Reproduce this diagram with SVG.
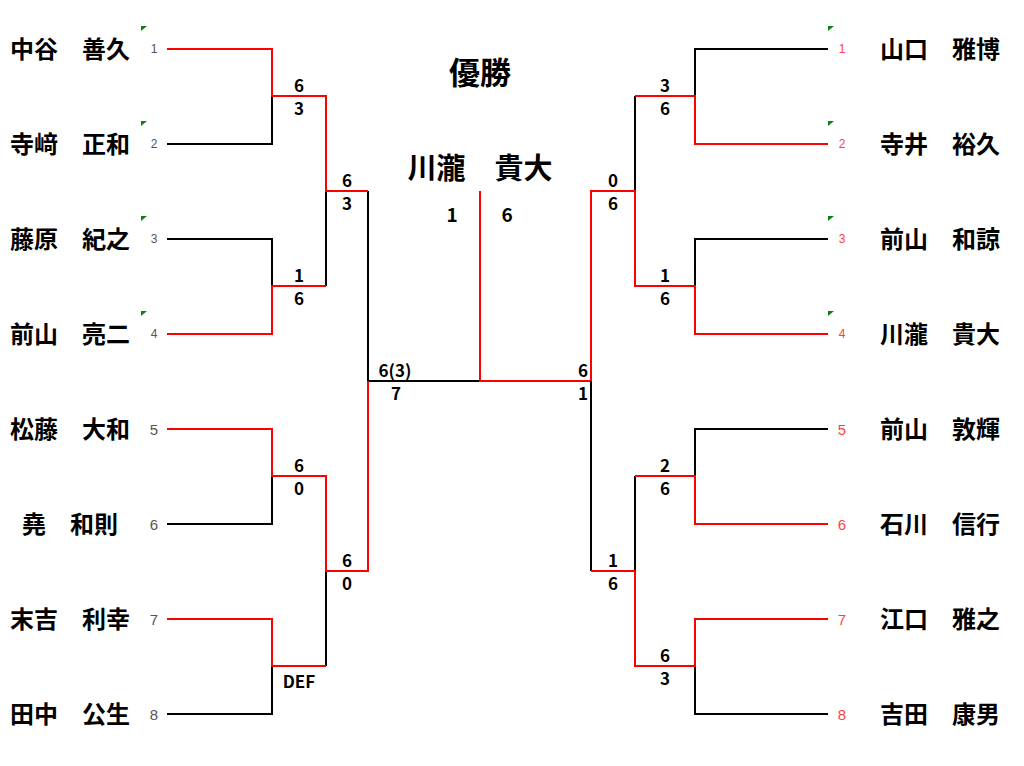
<svg xmlns="http://www.w3.org/2000/svg" width="1024" height="766" viewBox="0 0 1024 766">
<style>
.k{stroke:#000;stroke-width:2;fill:none}
.r{stroke:#ff0000;stroke-width:2;fill:none}
.nm{font-family:"Noto Sans CJK JP","Noto Sans",sans-serif;font-weight:bold;font-size:24px;fill:#000;text-anchor:middle}
.sc{font-family:"Noto Sans CJK JP","Noto Sans",sans-serif;font-weight:bold;font-size:17px;fill:#000;text-anchor:middle}
.sdl{font-family:"Liberation Sans","Noto Sans",sans-serif;fill:#555;text-anchor:middle}
.sdr{font-family:"Liberation Sans","Noto Sans",sans-serif;fill:#ff4040;text-anchor:middle}
.s1{font-size:12px}
.s2{font-size:15px}
.tri{fill:#108010}
.big{font-family:"Noto Sans CJK JP","Noto Sans",sans-serif;font-weight:bold;fill:#000;text-anchor:middle}
</style>
<rect width="1024" height="766" fill="#fff"/>
<g id="connectors">
<path class="k" d="M167,144H272V96M167,239H272V286M167,524H272V476M167,714H272V666M326,191V286M326,571V666M368,191V381H480"/>
<path class="r" d="M167,49H272V96H326V191H368M167,334H272V286H326M167,429H272V476H326V571H368V381M167,619H272V666H326M480,191V381H591"/>
<path class="k" d="M828,49H695V96M828,239H695V286M828,429H695V476M828,714H695V666M635,96V191M635,476V571M591,381V571"/>
<path class="r" d="M828,144H695V96H635M828,334H695V286H635V191H591V381M828,524H695V476H635M828,619H695V666H635V571H591"/>
</g>
<g id="title"><text class="big" x="480" y="84" font-size="31">優勝</text></g>
<g id="champion">
<text class="big" x="480" y="179" font-size="29">川瀧　貴大</text>
<text class="big" x="452" y="222" font-size="19">1</text>
<text class="big" x="507" y="222" font-size="19">6</text>
</g>
<g id="final-scores">
<text class="sc" x="395" y="377">6(3)</text>
<text class="sc" x="396" y="400">7</text>
<text class="sc" x="583" y="377">6</text>
<text class="sc" x="583" y="400">1</text>
</g>
<g id="left-scores">
<text class="sc" x="299" y="92">6</text><text class="sc" x="299" y="115">3</text>
<text class="sc" x="299" y="282">1</text><text class="sc" x="299" y="305">6</text>
<text class="sc" x="299" y="472">6</text><text class="sc" x="299" y="495">0</text>
<text class="sc" x="299" y="688">DEF</text>
<text class="sc" x="347" y="187">6</text><text class="sc" x="347" y="210">3</text>
<text class="sc" x="347" y="567">6</text><text class="sc" x="347" y="590">0</text>
</g>
<g id="right-scores">
<text class="sc" x="665" y="92">3</text><text class="sc" x="665" y="115">6</text>
<text class="sc" x="665" y="282">1</text><text class="sc" x="665" y="305">6</text>
<text class="sc" x="665" y="472">2</text><text class="sc" x="665" y="495">6</text>
<text class="sc" x="665" y="662">6</text><text class="sc" x="665" y="685">3</text>
<text class="sc" x="613" y="187">0</text><text class="sc" x="613" y="210">6</text>
<text class="sc" x="613" y="567">1</text><text class="sc" x="613" y="590">6</text>
</g>
<g id="left-players">
<g id="L1"><text class="nm" x="70" y="58">中谷　善久</text><text class="sdl s1" x="154" y="53">1</text><polygon class="tri" points="141,26 147,26 141,31"/></g>
<g id="L2"><text class="nm" x="70" y="153">寺﨑　正和</text><text class="sdl s1" x="154" y="148">2</text><polygon class="tri" points="141,121 147,121 141,126"/></g>
<g id="L3"><text class="nm" x="70" y="248">藤原　紀之</text><text class="sdl s1" x="154" y="243">3</text><polygon class="tri" points="141,216 147,216 141,221"/></g>
<g id="L4"><text class="nm" x="70" y="343">前山　亮二</text><text class="sdl s1" x="154" y="338">4</text><polygon class="tri" points="141,311 147,311 141,316"/></g>
<g id="L5"><text class="nm" x="70" y="438">松藤　大和</text><text class="sdl s2" x="154" y="435">5</text></g>
<g id="L6"><text class="nm" x="70" y="533">堯　和則</text><text class="sdl s2" x="154" y="530">6</text></g>
<g id="L7"><text class="nm" x="70" y="628">末吉　利幸</text><text class="sdl s2" x="154" y="625">7</text></g>
<g id="L8"><text class="nm" x="70" y="723">田中　公生</text><text class="sdl s2" x="154" y="720">8</text></g>
</g>
<g id="right-players">
<g id="R1"><text class="nm" x="940" y="58">山口　雅博</text><text class="sdr s1" x="842" y="53">1</text><polygon class="tri" points="828,26 834,26 828,31"/></g>
<g id="R2"><text class="nm" x="940" y="153">寺井　裕久</text><text class="sdr s1" x="842" y="148">2</text><polygon class="tri" points="828,121 834,121 828,126"/></g>
<g id="R3"><text class="nm" x="940" y="248">前山　和諒</text><text class="sdr s1" x="842" y="243">3</text><polygon class="tri" points="828,216 834,216 828,221"/></g>
<g id="R4"><text class="nm" x="940" y="343">川瀧　貴大</text><text class="sdr s1" x="842" y="338">4</text><polygon class="tri" points="828,311 834,311 828,316"/></g>
<g id="R5"><text class="nm" x="940" y="438">前山　敦輝</text><text class="sdr s2" x="842" y="435">5</text></g>
<g id="R6"><text class="nm" x="940" y="533">石川　信行</text><text class="sdr s2" x="842" y="530">6</text></g>
<g id="R7"><text class="nm" x="940" y="628">江口　雅之</text><text class="sdr s2" x="842" y="625">7</text></g>
<g id="R8"><text class="nm" x="940" y="723">吉田　康男</text><text class="sdr s2" x="842" y="720">8</text></g>
</g>
</svg>
